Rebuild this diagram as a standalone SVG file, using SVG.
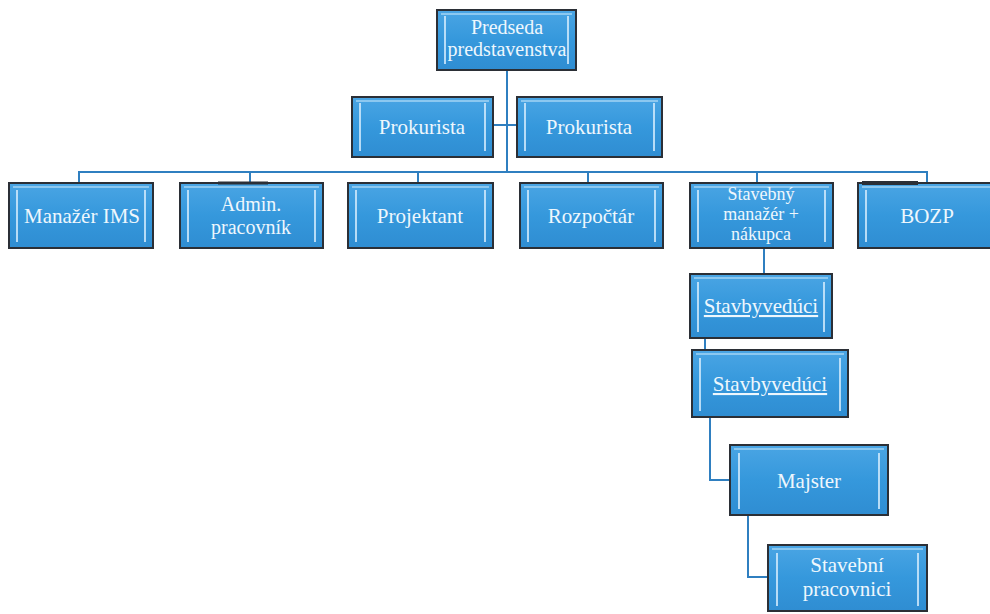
<svg xmlns="http://www.w3.org/2000/svg" width="990" height="614" viewBox="0 0 990 614">
<defs>
<linearGradient id="bg" x1="0" y1="0" x2="0" y2="1">
<stop offset="0" stop-color="#4aa5e4"/>
<stop offset="0.5" stop-color="#3598dc"/>
<stop offset="1" stop-color="#2f8dd2"/>
</linearGradient>
<style>
.box{fill:url(#bg);stroke:#2b2f36;stroke-width:2}
.hl{stroke:#cfe9fb;stroke-width:2;fill:none;opacity:0.85}
.hlt{stroke:#8cc8f0;stroke-width:2;fill:none}
.t{font-family:"Liberation Serif",serif;font-size:21px;fill:#eef7fd;text-anchor:middle}
.s{font-size:18px}
.m{font-size:20px}
.u{text-decoration:underline}
.c{stroke:#2f7fc0;stroke-width:2;fill:none}
</style>
</defs>
<rect width="990" height="614" fill="#ffffff"/>
<g id="connectors">
<path class="c" d="M507 70 V172"/>
<path class="c" d="M493 125 H517"/>
<path class="c" d="M79 183 V172 H927 V183"/>
<path class="c" d="M250 172 V183"/>
<path class="c" d="M418 172 V183"/>
<path class="c" d="M588 172 V183"/>
<path class="c" d="M757 172 V183"/>
<path class="c" d="M764 248 V274"/>
<path class="c" d="M705 338 V350"/>
<path class="c" d="M710 417 V480 H730"/>
<path class="c" d="M748 515 V577 H768"/>
</g>
<g id="n_predseda">
<rect class="box" x="437" y="10" width="139" height="60"/>
<path class="hlt" d="M441 14 H572"/>
<path class="hl" d="M445 16 V64 M568 16 V64"/>
<text class="t m" x="507" y="34">Predseda</text>
<text class="t m" x="507" y="56">predstavenstva</text>
</g>
<g id="n_prokurista1">
<rect class="box" x="352" y="97" width="141" height="60"/>
<path class="hlt" d="M356 101 H489"/>
<path class="hl" d="M360 103 V151 M485 103 V151"/>
<text class="t" x="422" y="134">Prokurista</text>
</g>
<g id="n_prokurista2">
<rect class="box" x="517" y="97" width="145" height="60"/>
<path class="hlt" d="M521 101 H658"/>
<path class="hl" d="M525 103 V151 M654 103 V151"/>
<text class="t" x="589" y="134">Prokurista</text>
</g>
<g id="n_ims">
<rect class="box" x="9" y="183" width="144" height="65"/>
<path class="hlt" d="M13 187 H149"/>
<path class="hl" d="M17 190 V242 M145 190 V242"/>
<text class="t" x="82" y="223">Manažér IMS</text>
</g>
<g id="n_admin">
<rect class="box" x="180" y="183" width="143" height="65"/>
<path d="M218 183 H268" stroke="#2b2f36" stroke-width="3"/>
<path class="hlt" d="M184 187 H319"/>
<path class="hl" d="M188 190 V242 M315 190 V242"/>
<text class="t m" x="251" y="211">Admin.</text>
<text class="t m" x="251" y="234">pracovník</text>
</g>
<g id="n_projektant">
<rect class="box" x="348" y="183" width="145" height="65"/>
<path class="hlt" d="M352 187 H489"/>
<path class="hl" d="M356 190 V242 M485 190 V242"/>
<text class="t" x="420" y="223">Projektant</text>
</g>
<g id="n_rozpoctar">
<rect class="box" x="520" y="183" width="143" height="65"/>
<path class="hlt" d="M524 187 H659"/>
<path class="hl" d="M528 190 V242 M655 190 V242"/>
<text class="t" x="591" y="223">Rozpočtár</text>
</g>
<g id="n_stavebny">
<rect class="box" x="690" y="183" width="143" height="65"/>
<path class="hlt" d="M694 187 H829"/>
<path class="hl" d="M698 190 V242 M825 190 V242"/>
<text class="t s" x="761" y="200">Stavebný</text>
<text class="t s" x="761" y="220">manažér +</text>
<text class="t s" x="761" y="240">nákupca</text>
</g>
<g id="n_bozp">
<rect class="box" x="858" y="183" width="140" height="65"/>
<path d="M862 183 H918" stroke="#2b2f36" stroke-width="4"/>
<path class="hlt" d="M862 187 H994"/>
<path class="hl" d="M866 190 V242"/>
<text class="t" x="927" y="223">BOZP</text>
</g>
<g id="n_stavbyveduci1">
<rect class="box" x="690" y="274" width="142" height="64"/>
<path class="hlt" d="M694 278 H828"/>
<path class="hl" d="M698 282 V332 M824 282 V332"/>
<text class="t u" x="761" y="313">Stavbyvedúci</text>
</g>
<g id="n_stavbyveduci2">
<rect class="box" x="692" y="350" width="156" height="67"/>
<path class="hlt" d="M696 354 H844"/>
<path class="hl" d="M700 358 V411 M840 358 V411"/>
<text class="t u" x="770" y="391">Stavbyvedúci</text>
</g>
<g id="n_majster">
<rect class="box" x="730" y="445" width="158" height="70"/>
<path class="hlt" d="M734 449 H884"/>
<path class="hl" d="M739 453 V509 M879 453 V509"/>
<text class="t" x="809" y="488">Majster</text>
</g>
<g id="n_pracovnici">
<rect class="box" x="768" y="545" width="159" height="66"/>
<path class="hlt" d="M772 549 H923"/>
<path class="hl" d="M777 553 V606 M918 553 V606"/>
<text class="t" x="847" y="572">Stavební</text>
<text class="t" x="847" y="596">pracovnici</text>
</g>
</svg>
